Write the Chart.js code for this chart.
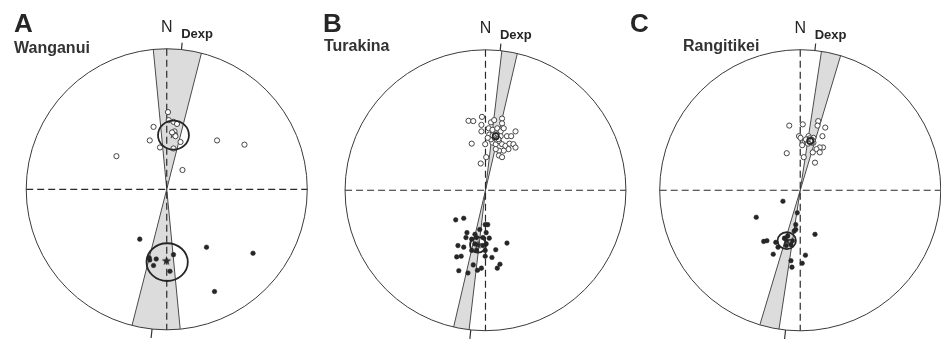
<!DOCTYPE html>
<html><head><meta charset="utf-8">
<script src="https://cdn.jsdelivr.net/npm/chart.js@4.4.0/dist/chart.umd.min.js"></script>
<style>
html,body{margin:0;padding:0;background:#fff;width:941px;height:340px;overflow:hidden;}
.panel{position:absolute;top:0;height:340px;}
canvas{display:block;}
</style></head><body>
<div class="panel" style="left:0px"><canvas id="cA" width="320" height="340"></canvas></div>
<div class="panel" style="left:315px"><canvas id="cB" width="315" height="340"></canvas></div>
<div class="panel" style="left:620px"><canvas id="cC" width="321" height="340"></canvas></div>
<script>
// ---------- data (equal-area stereonet coordinates, unit radius; x = east, y = north) ----------
const panelLetters = ["A", "B", "C"];
const siteNames = ["Wanganui", "Turakina", "Rangitikei"];
const expectedDec = [6, 6, 6];                 // Dexp, degrees
const decCones = [[-5.5, 14.3], [6.7, 13.1], [8.7, 16.7]]; // observed declination +/- error, degrees

const upperA = [[0.009,0.548],[0.014,0.491],[0.048,0.479],[0.073,0.464],[-0.094,0.443],[0.055,0.411],
  [0.048,0.392],[0.062,0.377],[0.038,0.404],[0.098,0.336],[-0.121,0.347],[-0.048,0.297],[0.048,0.290],
  [0.358,0.347],[0.553,0.317],[-0.358,0.235],[0.112,0.137]];
const lowerA = [[-0.192,-0.354],[-0.125,-0.486],[-0.121,-0.502],[-0.075,-0.495],[-0.094,-0.541],
  [0.048,-0.464],[0.023,-0.582],[0.283,-0.411],[0.614,-0.454],[0.340,-0.726]];

const upperB = [[-0.121,0.493],[-0.087,0.491],[-0.025,0.521],[-0.029,0.464],[-0.029,0.418],[0.039,0.482],
  [0.062,0.498],[0.118,0.509],[0.118,0.475],[0.023,0.440],[0.050,0.429],[0.084,0.440],[0.108,0.418],
  [0.130,0.440],[0.027,0.395],[0.062,0.384],[0.084,0.395],[0.108,0.384],[0.153,0.384],[0.183,0.384],
  [0.214,0.418],[-0.098,0.331],[-0.002,0.327],[0.050,0.338],[0.073,0.327],[0.096,0.349],[0.118,0.327],
  [0.142,0.315],[0.171,0.331],[0.199,0.327],[0.214,0.303],[0.164,0.292],[0.130,0.281],[0.096,0.281],
  [0.073,0.292],[0.039,0.361],[0.016,0.372],[0.005,0.235],[0.096,0.247],[0.118,0.235],[-0.034,0.190],
  [0.065,0.373],[0.079,0.360],[0.051,0.390],[0.092,0.363]];
const lowerB = [[-0.212,-0.210],[-0.155,-0.199],[-0.002,-0.244],[0.016,-0.244],[-0.041,-0.279],
  [-0.132,-0.301],[-0.075,-0.313],[0.005,-0.301],[-0.139,-0.336],[-0.098,-0.347],[-0.064,-0.336],
  [-0.018,-0.336],[0.027,-0.340],[0.153,-0.375],[-0.196,-0.393],[-0.155,-0.404],[-0.075,-0.381],
  [-0.018,-0.393],[0.005,-0.381],[0.073,-0.422],[-0.098,-0.427],[-0.064,-0.427],[-0.002,-0.427],
  [-0.205,-0.473],[-0.173,-0.468],[-0.002,-0.468],[0.046,-0.477],[-0.087,-0.530],[-0.057,-0.568],
  [-0.029,-0.553],[-0.125,-0.587],[-0.190,-0.571],[0.084,-0.553],[0.103,-0.525]];

const upperC = [[-0.078,0.459],[0.018,0.468],[0.128,0.491],[0.123,0.459],[0.178,0.445],[-0.009,0.384],
  [0.002,0.372],[0.059,0.384],[0.094,0.372],[0.158,0.384],[0.032,0.349],[0.048,0.338],[0.078,0.361],
  [0.094,0.338],[0.014,0.320],[0.162,0.304],[0.139,0.304],[0.116,0.292],[0.089,0.269],[0.139,0.269],
  [-0.096,0.263],[0.025,0.235],[0.105,0.196],[0.059,0.361],[0.071,0.349],[0.082,0.338],[0.055,0.331],
  [0.066,0.368],[0.087,0.354],[0.041,0.361]];
const lowerC = [[-0.123,-0.078],[-0.313,-0.192],[-0.021,-0.160],[-0.032,-0.244],[-0.032,-0.279],
  [-0.043,-0.290],[-0.260,-0.363],[-0.237,-0.358],[-0.174,-0.370],[-0.158,-0.404],[-0.112,-0.340],
  [-0.089,-0.324],[-0.055,-0.358],[-0.066,-0.386],[-0.100,-0.393],[0.105,-0.313],[-0.192,-0.454],
  [-0.066,-0.500],[-0.059,-0.546],[0.014,-0.518],[0.037,-0.461]];

// site means and alpha95 (x, y, rx, ry)
const meansA = [[0.048,0.390],[-0.002,-0.509]];
const alpha95A = [[0.048,0.384,0.110,0.103],[0.003,-0.517,0.147,0.134]];
const meansB = [[0.073,0.384],[-0.053,-0.388]];
const alpha95B = [[0.073,0.384,0.022,0.022],[-0.053,-0.388,0.057,0.055]];
const meansC = [[0.071,0.349],[-0.096,-0.358]];
const alpha95C = [[0.071,0.349,0.022,0.022],[-0.096,-0.358,0.065,0.060]];

const uppers = [upperA, upperB, upperC];
const lowers = [lowerA, lowerB, lowerC];
const means = [meansA, meansB, meansC];
const alphas = [alpha95A, alpha95B, alpha95C];

// ---------- layout ----------
const NET_R = 146;
const layout = [
  {id:'cA', left:0,   width:320, cx:167, cy:190, letter:[14,32], name:[14,53]},
  {id:'cB', left:315, width:315, cx:486, cy:191, letter:[323,32], name:[324,51]},
  {id:'cC', left:620, width:321, cx:801, cy:191, letter:[630,32], name:[683,51]}
];
const H = 340;

// five-point star marker
function makeStar(size, color){
  const c = document.createElement('canvas');
  c.width = size; c.height = size;
  const g = c.getContext('2d');
  const r1 = size/2 - 0.5, r2 = r1*0.42, m = size/2;
  g.beginPath();
  for (let k=0;k<10;k++){
    const r = k%2===0 ? r1 : r2;
    const a = -Math.PI/2 + k*Math.PI/5;
    const px = m + r*Math.cos(a), py = m + r*Math.sin(a);
    if(k===0) g.moveTo(px,py); else g.lineTo(px,py);
  }
  g.closePath(); g.fillStyle = color; g.fill();
  return c;
}
const starImg = makeStar(11, '#2a2a2a');

const toPts = arr => arr.map(p => ({x:p[0], y:p[1]}));
const rad = d => d*Math.PI/180;

function build(i){
  const L = layout[i];
  const lcx = L.cx - L.left;
  const xmin = -lcx/NET_R, xmax = (L.width - lcx)/NET_R;
  const ymax = L.cy/NET_R, ymin = -(H - L.cy)/NET_R;

  const stereo = {
    id: 'stereo'+i,
    beforeDatasetsDraw(chart){
      const ctx = chart.ctx, xs = chart.scales.x, ys = chart.scales.y;
      const cx = xs.getPixelForValue(0), cy = ys.getPixelForValue(0);
      const R = xs.getPixelForValue(1) - cx;
      const [a1, a2] = decCones[i];
      ctx.save();
      // declination cone (double wedge)
      ctx.beginPath();
      ctx.moveTo(cx, cy);
      ctx.arc(cx, cy, R, rad(a1-90), rad(a2-90));
      ctx.closePath();
      ctx.moveTo(cx, cy);
      ctx.arc(cx, cy, R, rad(a1+90), rad(a2+90));
      ctx.closePath();
      ctx.fillStyle = '#dcdcdc';
      ctx.fill();
      ctx.strokeStyle = '#4a4a4a'; ctx.lineWidth = 1;
      [a1, a2].forEach(a => {
        ctx.beginPath();
        ctx.moveTo(cx + R*Math.sin(rad(a)), cy - R*Math.cos(rad(a)));
        ctx.lineTo(cx - R*Math.sin(rad(a)), cy + R*Math.cos(rad(a)));
        ctx.stroke();
      });
      // net circle
      ctx.beginPath();
      ctx.arc(cx, cy, R, 0, Math.PI*2);
      ctx.strokeStyle = '#3a3a3a'; ctx.lineWidth = 1;
      ctx.stroke();
      // dashed axes
      ctx.setLineDash([7,4]);
      ctx.strokeStyle = '#2a2a2a'; ctx.lineWidth = 1.2;
      ctx.beginPath();
      ctx.moveTo(cx - R, cy); ctx.lineTo(cx + R, cy);
      ctx.moveTo(cx, cy - R); ctx.lineTo(cx, cy + R);
      ctx.stroke();
      ctx.setLineDash([]);
      // Dexp ticks
      const d = rad(expectedDec[i]);
      ctx.strokeStyle = '#333'; ctx.lineWidth = 1.2;
      ctx.beginPath();
      ctx.moveTo(cx + R*Math.sin(d), cy - R*Math.cos(d));
      ctx.lineTo(cx + (R+7)*Math.sin(d), cy - (R+7)*Math.cos(d));
      ctx.moveTo(cx - R*Math.sin(d), cy + R*Math.cos(d));
      ctx.lineTo(cx - (R+9)*Math.sin(d), cy + (R+9)*Math.cos(d));
      ctx.stroke();
      ctx.restore();
    },
    afterDatasetsDraw(chart){
      const ctx = chart.ctx, xs = chart.scales.x, ys = chart.scales.y;
      const cx = xs.getPixelForValue(0), cy = ys.getPixelForValue(0);
      const R = xs.getPixelForValue(1) - cx;
      ctx.save();
      // alpha95 circles
      ctx.strokeStyle = '#262626'; ctx.lineWidth = 1.8;
      alphas[i].forEach(a => {
        const px = xs.getPixelForValue(a[0]), py = ys.getPixelForValue(a[1]);
        const rx = xs.getPixelForValue(a[0]+a[2]) - px;
        const ry = py - ys.getPixelForValue(a[1]+a[3]);
        ctx.beginPath();
        ctx.ellipse(px, py, rx, ry, 0, 0, Math.PI*2);
        ctx.stroke();
      });
      // labels
      ctx.fillStyle = '#262626';
      ctx.textBaseline = 'alphabetic';
      ctx.font = 'bold 26px "Liberation Sans", Arial, sans-serif';
      ctx.textAlign = 'left';
      ctx.fillText(panelLetters[i], L.letter[0] - L.left, L.letter[1]);
      ctx.fillStyle = '#333';
      ctx.font = 'bold 16px "Liberation Sans", Arial, sans-serif';
      ctx.fillText(siteNames[i], L.name[0] - L.left, L.name[1]);
      ctx.fillStyle = '#262626';
      ctx.font = '16px "Liberation Sans", Arial, sans-serif';
      ctx.textAlign = 'center';
      ctx.fillText('N', cx, cy - R - 17);
      const d = rad(expectedDec[i]);
      ctx.font = 'bold 13px "Liberation Sans", Arial, sans-serif';
      ctx.textAlign = 'left';
      ctx.fillText('Dexp', cx + (R+7)*Math.sin(d) - 1, cy - R - 11);
      ctx.restore();
    }
  };

  new Chart(document.getElementById(L.id), {
    type: 'scatter',
    data: {
      datasets: [
        { label: 'Upper hemisphere', data: toPts(uppers[i]), pointStyle: 'circle',
          pointRadius: 2.6, pointBackgroundColor: '#ffffff', pointBorderColor: '#444444', pointBorderWidth: 1, clip: false },
        { label: 'Lower hemisphere', data: toPts(lowers[i]), pointStyle: 'circle',
          pointRadius: 2.3, pointBackgroundColor: '#262626', pointBorderColor: '#262626', pointBorderWidth: 0.5, clip: false },
        { label: 'Mean', data: toPts(means[i]), pointStyle: starImg, pointRadius: 5, clip: false }
      ]
    },
    options: {
      responsive: false,
      animation: false,
      events: [],
      layout: { padding: 0 },
      plugins: { legend: { display: false }, tooltip: { enabled: false }, title: { display: false } },
      scales: {
        x: { type: 'linear', min: xmin, max: xmax, display: false },
        y: { type: 'linear', min: ymin, max: ymax, display: false }
      }
    },
    plugins: [stereo]
  });
}
[0,1,2].forEach(build);
</script>
</body></html>
